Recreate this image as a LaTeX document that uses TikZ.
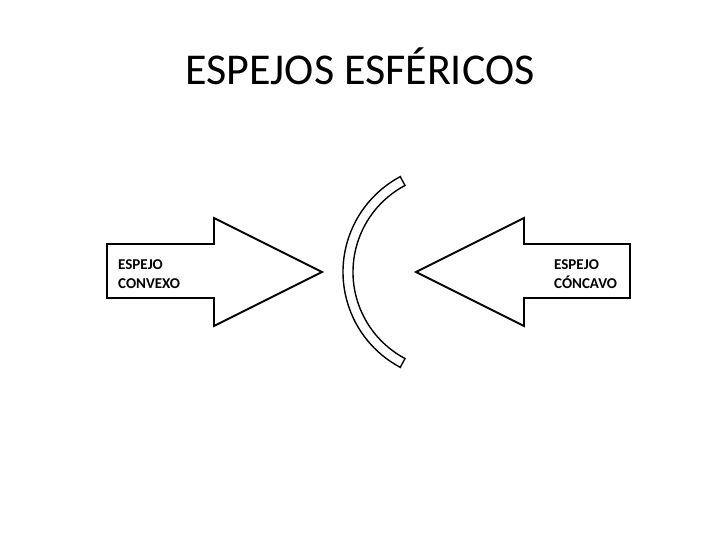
\documentclass[tikz,border=0pt]{standalone}
\usepackage{fontspec}
\setmainfont{Carlito}
\usetikzlibrary{calc}

\begin{document}
\begin{tikzpicture}[
    x=1pt, y=-1pt,
    tag/.style={
      font=\fontsize{15}{18.5}\selectfont\bfseries,
      align=left, inner sep=0pt, anchor=west
    },
    shapeline/.style={draw=black, line width=1.8pt, line join=miter},
    mirror/.style={draw=black, line width=1.4pt}
  ]
  \useasboundingbox (0,0) rectangle (720,540);
  \node[font=\fontsize{44}{52}\selectfont, anchor=base] (title) at (360,85) {ESPEJOS ESFÉRICOS};
  % arrow from the left
  \draw[shapeline] (107,244) -- (214,244) -- (214,218) -- (322,272)
    -- (214,326) -- (214,298) -- (107,298) -- cycle;
  \node[tag] (convexo) at (118,274) {ESPEJO\\CONVEXO};
  % arrow from the right
  \draw[shapeline] (630,244) -- (524,244) -- (524,218) -- (416,272)
    -- (524,326) -- (524,298) -- (630,298) -- cycle;
  \node[tag] (concavo) at (554,274) {ESPEJO\\CÓNCAVO};
  % mirror
  \coordinate (c) at (451,272);
  \draw[mirror] ($(c)+(118:108)$) arc[start angle=118, end angle=242, radius=108]
    -- ($(c)+(242:98)$) arc[start angle=242, end angle=118, radius=98] -- cycle;
\end{tikzpicture}
\end{document}
